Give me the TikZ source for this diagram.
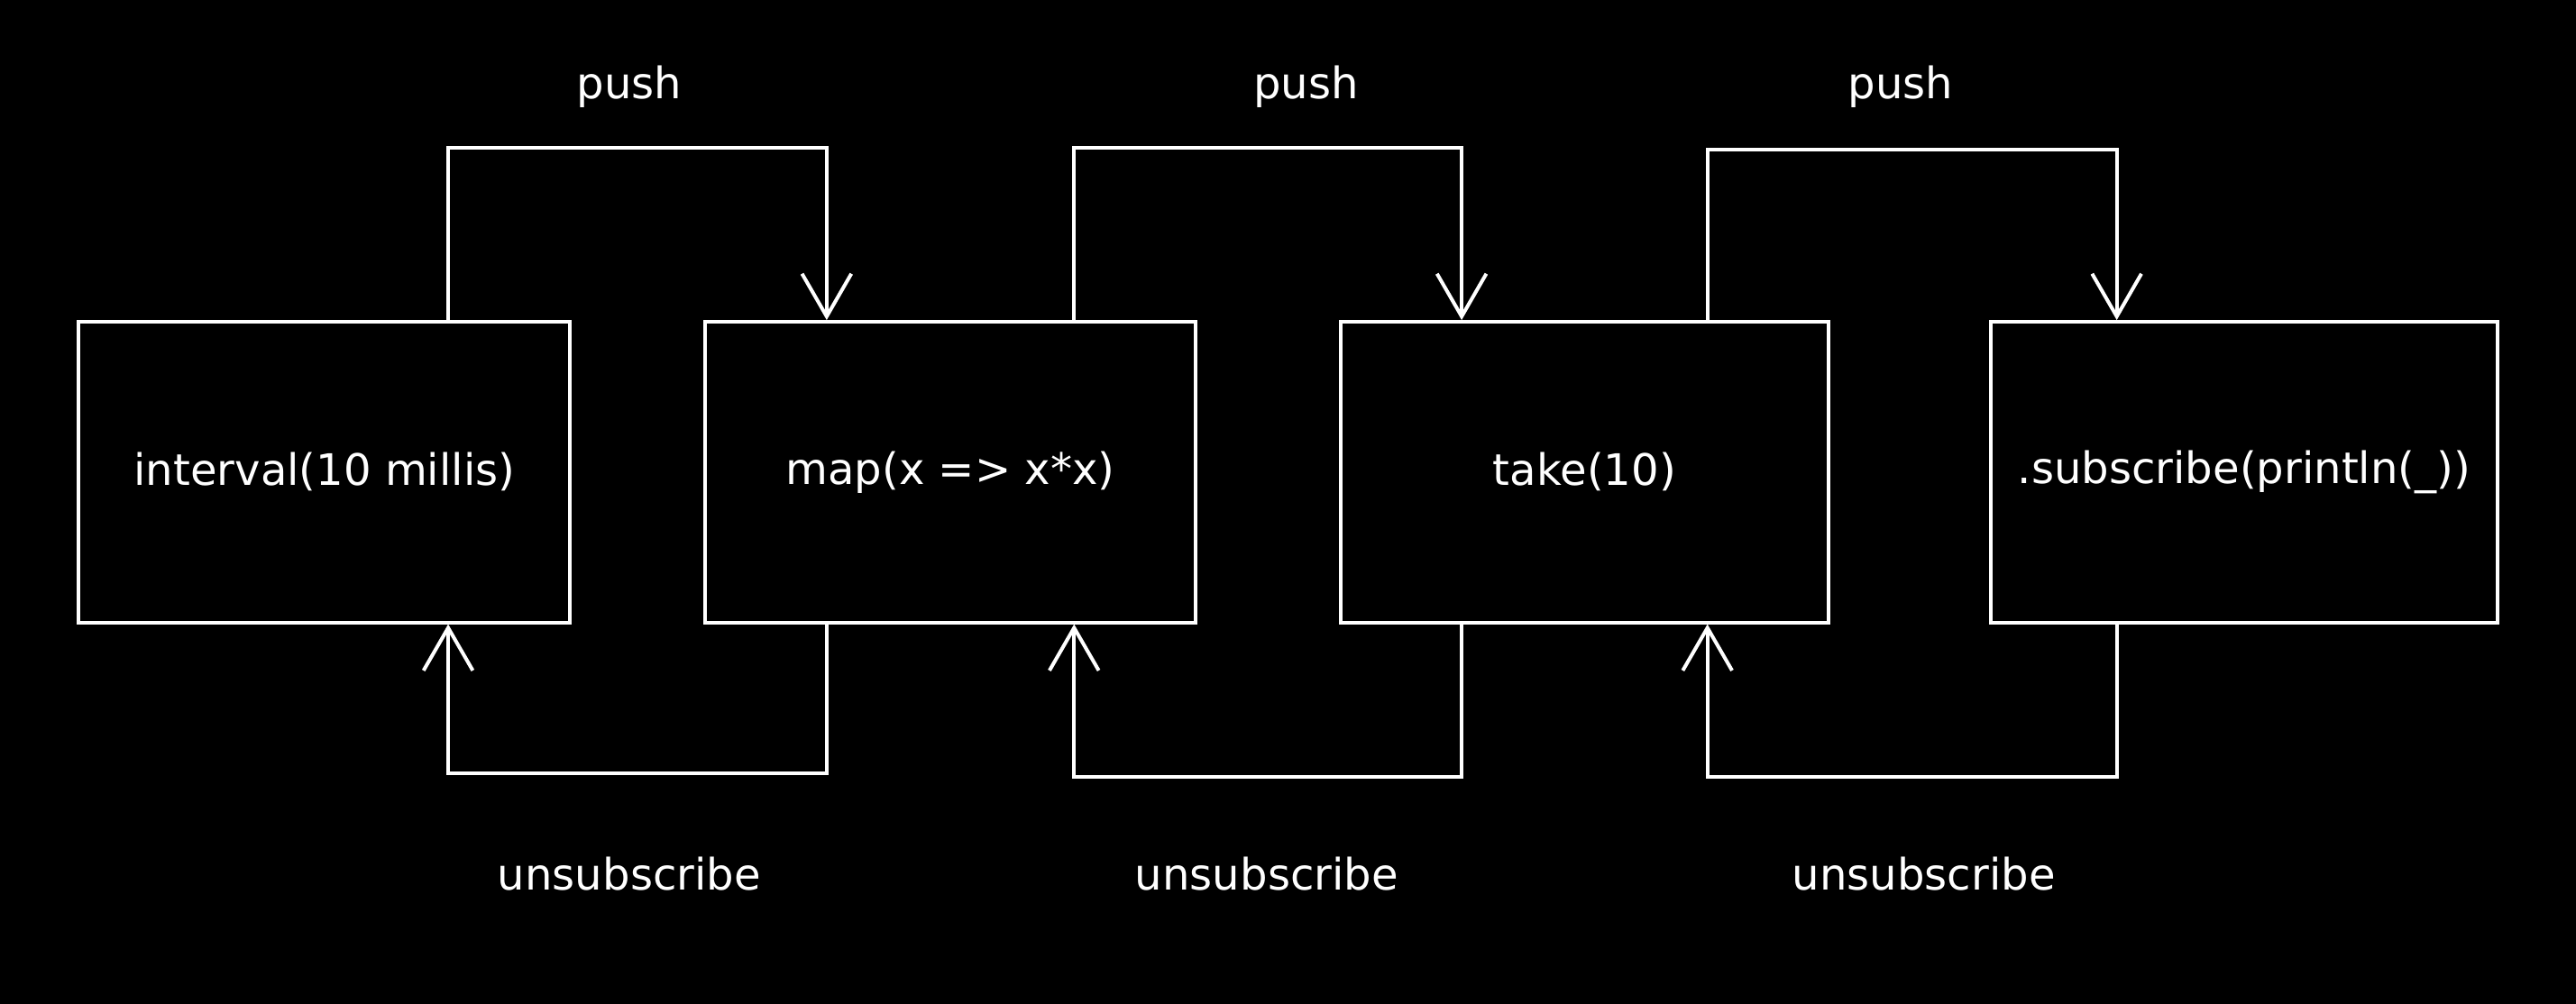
\documentclass[tikz,border=0pt]{standalone}
\usepackage{fontspec}
\setmainfont{DejaVu Sans}
\usetikzlibrary{arrows.meta,calc}
\begin{document}
\begin{tikzpicture}[x=0.5pt,y=-0.5pt,
  box/.style={draw=white,line width=1.1pt,inner sep=0pt,text=white,font=\fontsize{13.2}{16}\selectfont},
  lbl/.style={text=white,inner sep=0pt,font=\fontsize{13.2}{16}\selectfont},
  arr/.style={draw=white,line width=1.1pt,-{Straight Barb[length=13pt,width=15pt]}}]
\useasboundingbox (0,0) rectangle (1568,611);
\fill[black] (-10,-10) rectangle (1578,621);
\node[box,minimum width=149.5pt,minimum height=91.5pt] (b1) at (197.5,287.5) {interval(10 millis)};
\node[box,minimum width=149.5pt,minimum height=91.5pt] (b2) at (578.5,287.5) {map(x => x*x)};
\node[box,minimum width=148.5pt,minimum height=91.5pt] (b3) at (964.5,287.5) {take(10)};
\node[box,minimum width=154pt,minimum height=91.5pt] (b4) at (1366,287.5) {.subscribe(println(\_))};
% attachment points
\coordinate (b1t) at ($(b1.north west)!.75!(b1.north east)$);
\coordinate (b1b) at ($(b1.south west)!.75!(b1.south east)$);
\coordinate (b2tl) at ($(b2.north west)!.25!(b2.north east)$);
\coordinate (b2bl) at ($(b2.south west)!.25!(b2.south east)$);
\coordinate (b2tr) at ($(b2.north west)!.75!(b2.north east)$);
\coordinate (b2br) at ($(b2.south west)!.75!(b2.south east)$);
\coordinate (b3tl) at ($(b3.north west)!.25!(b3.north east)$);
\coordinate (b3bl) at ($(b3.south west)!.25!(b3.south east)$);
\coordinate (b3tr) at ($(b3.north west)!.75!(b3.north east)$);
\coordinate (b3br) at ($(b3.south west)!.75!(b3.south east)$);
\coordinate (b4t) at ($(b4.north west)!.25!(b4.north east)$);
\coordinate (b4b) at ($(b4.south west)!.25!(b4.south east)$);
% push connectors
\draw[arr] (b1t) -- ++(0,-105) -| (b2tl);
\draw[arr] (b2tr) -- ++(0,-105) -| (b3tl);
\draw[arr] (b3tr) -- ++(0,-104) -| (b4t);
% unsubscribe connectors
\draw[arr] (b2bl) -- ++(0,91) -| (b1b);
\draw[arr] (b3bl) -- ++(0,93) -| (b2br);
\draw[arr] (b4b) -- ++(0,93) -| (b3br);
% labels
\node[lbl] (p1) at (383,53) {push};
\node[lbl] (p2) at (795,53) {push};
\node[lbl] (p3) at (1157,53) {push};
\node[lbl] (u1) at (383,532) {unsubscribe};
\node[lbl] (u2) at (771,532) {unsubscribe};
\node[lbl] (u3) at (1171,532) {unsubscribe};
\end{tikzpicture}
\end{document}
